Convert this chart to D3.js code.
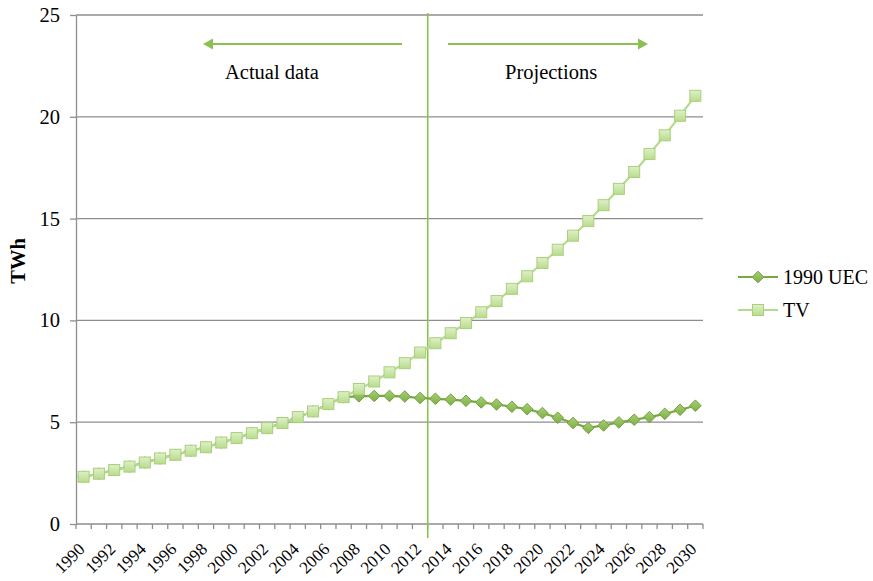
<!DOCTYPE html>
<html>
<head>
<meta charset="utf-8">
<script src="https://cdn.jsdelivr.net/npm/d3@7"></script>
<style>
  html, body { margin: 0; padding: 0; background: #fff; }
  svg { display: block; font-family: "Liberation Serif", "Times New Roman", serif; }
</style>
</head>
<body>
<svg id="chart" width="873" height="581"></svg>
<script>
// ---- data ----
const years = [1990,1991,1992,1993,1994,1995,1996,1997,1998,1999,2000,2001,2002,2003,2004,2005,2006,2007,2008,2009,2010,2011,2012,2013,2014,2015,2016,2017,2018,2019,2020,2021,2022,2023,2024,2025,2026,2027,2028,2029,2030];
const tvValues = [2.32,2.47,2.65,2.82,3.02,3.22,3.40,3.60,3.77,4.00,4.22,4.46,4.71,4.96,5.25,5.53,5.89,6.23,6.63,7.00,7.45,7.90,8.42,8.88,9.37,9.87,10.40,10.95,11.55,12.17,12.82,13.47,14.16,14.88,15.66,16.46,17.29,18.17,19.09,20.05,21.03];
const uecValues = [2.32,2.47,2.65,2.82,3.02,3.22,3.40,3.60,3.77,4.00,4.22,4.46,4.71,4.96,5.25,5.53,5.89,6.23,6.27,6.29,6.29,6.26,6.19,6.15,6.11,6.05,5.97,5.87,5.76,5.64,5.45,5.22,4.96,4.72,4.84,4.99,5.12,5.25,5.41,5.61,5.81];
const yTicks = [0,5,10,15,20,25];
const seriesNames = ["1990 UEC", "TV"];
const annotations = ["Actual data", "Projections"];
const splitYear = 2013;
const yLabel = "TWh";

// ---- layout ----
const svg = d3.select("#chart");
const pL = 76, pR = 703, pT = 15, pB = 524;
const x = d3.scaleBand().domain(years).range([pL, pR]).padding(0);
const y = d3.scaleLinear().domain([0, 25]).range([pB, pT]);
const cx = d => x(d) + x.bandwidth() / 2;

const gridCol = "#8e8e8e";
const green = "#8cc152";

const defs = svg.append("defs");
const gSq = defs.append("linearGradient").attr("id", "gsq").attr("x1", 0).attr("y1", 0).attr("x2", 0).attr("y2", 1);
gSq.append("stop").attr("offset", "0%").attr("stop-color", "#dff0c8");
gSq.append("stop").attr("offset", "100%").attr("stop-color", "#b8dc8c");
const gDi = defs.append("linearGradient").attr("id", "gdi").attr("x1", 0).attr("y1", 0).attr("x2", 0).attr("y2", 1);
gDi.append("stop").attr("offset", "0%").attr("stop-color", "#a6cf74");
gDi.append("stop").attr("offset", "100%").attr("stop-color", "#7fae48");

// gridlines
svg.append("g").selectAll("line").data(yTicks.filter(d => d > 0)).join("line")
  .attr("x1", pL).attr("x2", pR)
  .attr("y1", d => y(d)).attr("y2", d => y(d))
  .attr("stroke", gridCol).attr("stroke-width", 1.3);

// y axis
const yAxis = svg.append("g").attr("transform", `translate(${pL},0)`)
  .call(d3.axisLeft(y).tickValues(yTicks).tickSize(6).tickPadding(10).tickSizeOuter(0));
yAxis.attr("font-family", null);
yAxis.select(".domain").attr("stroke", gridCol).attr("stroke-width", 1.3);
yAxis.selectAll(".tick line").attr("stroke", gridCol).attr("stroke-width", 1.3);
yAxis.selectAll(".tick text").attr("font-family", "Liberation Serif").attr("font-size", 20.5).attr("fill", "#000");

// x axis
svg.append("line").attr("x1", pL).attr("x2", pR).attr("y1", pB).attr("y2", pB)
  .attr("stroke", gridCol).attr("stroke-width", 1.3);
const bounds = years.map(d => x(d)).concat([x.range()[1]]);
svg.append("g").selectAll("line").data(bounds).join("line")
  .attr("x1", d => d).attr("x2", d => d).attr("y1", pB).attr("y2", pB + 5)
  .attr("stroke", gridCol).attr("stroke-width", 1.3);
svg.append("g").selectAll("text").data(years.filter(d => d % 2 === 0)).join("text")
  .attr("transform", d => `translate(${cx(d) - 2},${pB + 22}) rotate(-45)`)
  .attr("text-anchor", "end").attr("dy", "0.35em")
  .attr("font-size", 17.2).attr("fill", "#000")
  .text(d => d);

// y label
svg.append("text").attr("transform", `translate(25,${261}) rotate(-90)`)
  .attr("text-anchor", "middle").attr("font-weight", "bold").attr("font-size", 20.5)
  .text(yLabel);

// split line
const sx = x(splitYear);
svg.append("line").attr("x1", sx).attr("x2", sx).attr("y1", 13).attr("y2", 538)
  .attr("stroke", green).attr("stroke-width", 1.6);

// arrows
function arrow(x1, x2, yy) {
  const dir = Math.sign(x2 - x1);
  svg.append("line").attr("x1", x1).attr("x2", x2 - dir * 8).attr("y1", yy).attr("y2", yy)
    .attr("stroke", green).attr("stroke-width", 2);
  svg.append("path").attr("d", `M${x2},${yy} L${x2 - dir * 10},${yy - 5.5} L${x2 - dir * 10},${yy + 5.5} Z`)
    .attr("fill", green);
}
arrow(402, 203, 44);
arrow(448, 648, 44);
svg.append("text").attr("x", 225).attr("y", 79).attr("font-size", 20.5).text(annotations[0]);
svg.append("text").attr("x", 505).attr("y", 79).attr("font-size", 20.5).text(annotations[1]);

// series
const line = d3.line().x((d, i) => cx(years[i])).y(d => y(d));
const sq = 11, di = 5.8;
function drawSquare(g, px, py) {
  g.append("rect").attr("x", px - sq / 2).attr("y", py - sq / 2).attr("width", sq).attr("height", sq)
    .attr("fill", "url(#gsq)").attr("stroke", "#a9d07c").attr("stroke-width", 1);
}
function drawDiamond(g, px, py) {
  g.append("path").attr("d", `M${px},${py - di} L${px + di},${py} L${px},${py + di} L${px - di},${py} Z`)
    .attr("fill", "url(#gdi)").attr("stroke", "#73a23c").attr("stroke-width", 1);
}

const gU = svg.append("g");
gU.append("path").datum(uecValues).attr("d", line).attr("fill", "none")
  .attr("stroke", "#78a83f").attr("stroke-width", 2.2);
uecValues.forEach((v, i) => drawDiamond(gU, cx(years[i]), y(v)));

const gT = svg.append("g");
gT.append("path").datum(tvValues).attr("d", line).attr("fill", "none")
  .attr("stroke", "#b6da8e").attr("stroke-width", 2.2);
tvValues.forEach((v, i) => drawSquare(gT, cx(years[i]), y(v)));

// legend
const lg = svg.append("g");
[[277, 0], [310, 1]].forEach(([ly, k]) => {
  lg.append("line").attr("x1", 738).attr("x2", 778).attr("y1", ly).attr("y2", ly)
    .attr("stroke", k === 0 ? "#78a83f" : "#b6da8e").attr("stroke-width", 2.2);
  if (k === 0) drawDiamond(lg, 758, ly); else drawSquare(lg, 758, ly);
  lg.append("text").attr("x", 783).attr("y", ly).attr("dy", "0.35em").attr("font-size", 20)
    .text(seriesNames[k]);
});
</script>
</body>
</html>
